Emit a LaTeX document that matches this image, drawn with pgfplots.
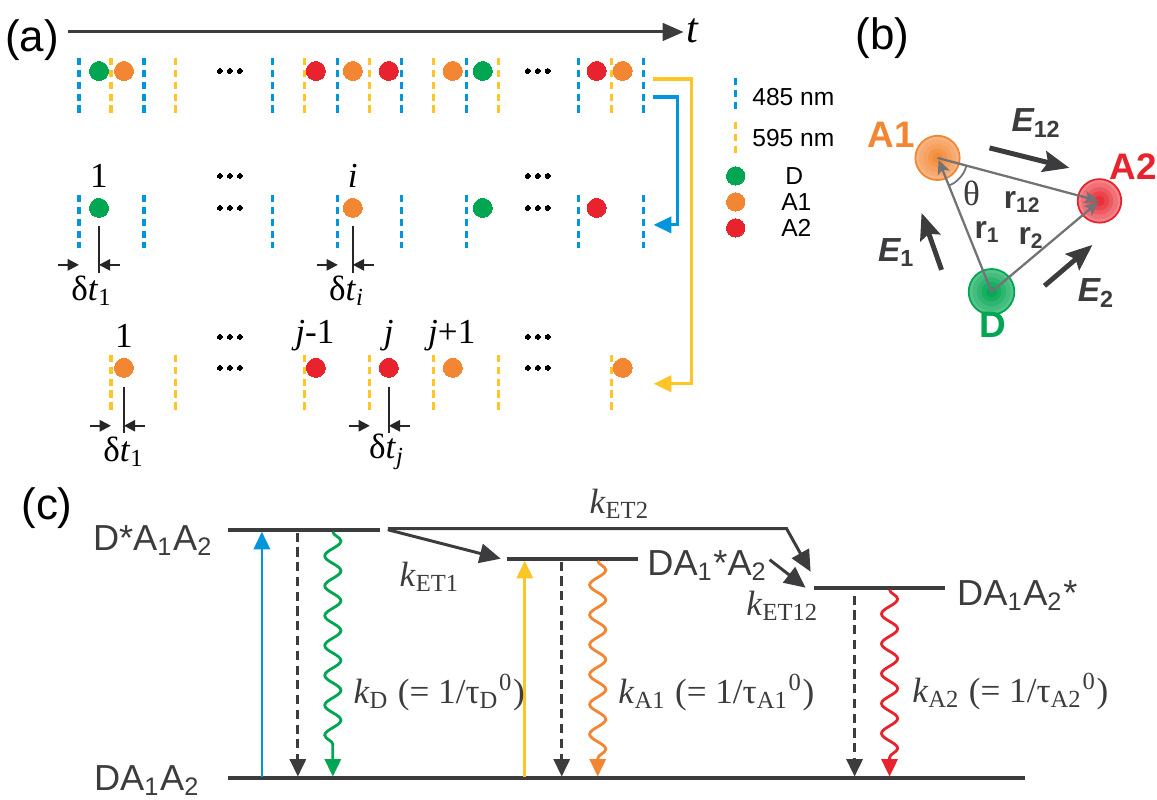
\documentclass[border=0pt]{standalone}
\usepackage{pgfplots}
\pgfplotsset{compat=1.18}
\usepackage{fontspec}
\setmainfont{Liberation Sans}
\newfontfamily\tms{Liberation Serif}
\usetikzlibrary{arrows.meta,decorations.pathmorphing}
\definecolor{cblue}{RGB}{0,150,219}
\definecolor{cyel}{RGB}{255,196,37}
\definecolor{cgreen}{RGB}{0,166,81}
\definecolor{corange}{RGB}{243,134,50}
\definecolor{cred}{RGB}{232,35,45}
\definecolor{cdark}{RGB}{60,60,62}
\definecolor{cgray}{RGB}{115,115,118}
\newcommand{\fs}[1]{\fontsize{#1}{#1}\selectfont}
\tikzset{every node/.append style={inner sep=0pt}}
\begin{document}
\begin{tikzpicture}
\begin{axis}[width=11.57cm,height=8cm,scale only axis,xmin=0,xmax=1157,ymin=0,ymax=800,
  y dir=reverse,axis lines=none,clip=false,clip marker paths=true,unbounded coords=jump,
  bd/.style={cblue,line width=0.9pt,dash pattern=on 2.13pt off 1.25pt},
  yd/.style={cyel,line width=0.9pt,dash pattern=on 2.13pt off 1.25pt},
  dot/.style={color=#1,only marks,mark=*,mark size=2.7pt,mark options={draw=#1,fill=#1,line width=0pt}},
  ell/.style={black,only marks,mark=*,mark size=0.7pt,mark options={draw=black,fill=black,line width=0pt}},
  ball/.style n args={3}{#1,only marks,mark=*,mark size=#2,mark options={draw=#3,fill=#1,line width=0.5pt}},
  sarr/.style={black!85,line width=0.6pt,-{Triangle[length=3.2pt,width=3.2pt]}},
  tip/.style={-{Triangle[length=5pt,width=4.6pt]}},
  garr/.style={cgray,line width=0.65pt,-{Stealth[length=4pt,width=3.6pt,inset=1pt]}},
  earr/.style={cdark,line width=1.4pt,-{Stealth[length=7.5pt,width=6pt,inset=1.2pt]}},
  wave/.style={#1,line width=0.8pt,decorate,decoration={snake,amplitude=2.3pt,segment length=8.5pt,post length=5pt},-{Triangle[length=5pt,width=4.6pt]}},
  ]
\addplot[draw=none] coordinates {(0,0)(1157,800)};

% ---------------- panel (a) ----------------
\node[font=\fs{12.5}] at (axis cs:32,40) {(a)};
\addplot[cdark,line width=0.85pt,-{Triangle[length=6pt,width=5pt]}] coordinates {(68,32)(684,32)};
\node[font=\tms\itshape\fs{12}] at (axis cs:693,31) {t};

% row 1
\addplot[bd] coordinates {(79,58)(79,113) (79,nan) (144,58)(144,113) (144,nan) (273,58)(273,113) (273,nan) (338,58)(338,113) (338,nan) (402,58)(402,113) (402,nan) (467,58)(467,113) (467,nan) (579,58)(579,113) (579,nan) (644,58)(644,113)};
\addplot[yd] coordinates {(111,58)(111,113) (111,nan) (176,58)(176,113) (176,nan) (305,58)(305,113) (305,nan) (370,58)(370,113) (370,nan) (434,58)(434,113) (434,nan) (499,58)(499,113) (499,nan) (612,58)(612,113)};
\addplot[dot=cgreen] coordinates {(99,71)(483,71)};
\addplot[dot=corange] coordinates {(124,71)(353,71)(453,71)(623,71)};
\addplot[dot=cred] coordinates {(316,71)(389,71)(597,71)};
\addplot[ell] coordinates {(220,71)(230,71)(240,71) (528,71)(538,71)(548,71)};

% row 2
\addplot[bd] coordinates {(79,195)(79,248) (79,nan) (144,195)(144,248) (144,nan) (273,195)(273,248) (273,nan) (338,195)(338,248) (338,nan) (402,195)(402,248) (402,nan) (467,195)(467,248) (467,nan) (579,195)(579,248) (579,nan) (644,195)(644,248)};
\addplot[dot=cgreen] coordinates {(99,208)(483,208)};
\addplot[dot=corange] coordinates {(353,208)};
\addplot[dot=cred] coordinates {(597,208)};
\addplot[ell] coordinates {(220,208)(230,208)(240,208) (528,208)(538,208)(548,208) (220,176)(230,176)(240,176) (528,176)(538,176)(548,176)};
\node[font=\tms\fs{10}] at (axis cs:99,176) {1};
\node[font=\tms\itshape\fs{10}] at (axis cs:353,176) {i};
\addplot[black!85,line width=0.6pt] coordinates {(99,226)(99,273) (99,nan) (353,226)(353,273)};
\addplot[sarr] coordinates {(58,265)(79,265)};
\addplot[sarr] coordinates {(120,265)(99,265)};
\addplot[sarr] coordinates {(317,265)(338,265)};
\addplot[sarr] coordinates {(374,265)(353,265)};
\node[font=\tms\fs{10}] at (axis cs:92,291) {δ\textit{t}\textsubscript{1}};
\node[font=\tms\fs{10}] at (axis cs:347,291) {δ\textit{t}\textsubscript{\textit{i}}};

% row 3
\addplot[yd] coordinates {(111,355)(111,410) (111,nan) (176,355)(176,410) (176,nan) (305,355)(305,410) (305,nan) (370,355)(370,410) (370,nan) (434,355)(434,410) (434,nan) (499,355)(499,410) (499,nan) (612,355)(612,410)};
\addplot[dot=corange] coordinates {(124,368)(453,368)(623,368)};
\addplot[dot=cred] coordinates {(316,368)(389,368)};
\addplot[ell] coordinates {(220,368)(230,368)(240,368) (528,368)(538,368)(548,368) (220,337)(230,337)(240,337) (528,337)(538,337)(548,337)};
\node[font=\tms\fs{10}] at (axis cs:124,336) {1};
\node[font=\tms\fs{10}] at (axis cs:315,336) {\textit{j}-1};
\node[font=\tms\fs{10}] at (axis cs:389,336) {\textit{j}};
\node[font=\tms\fs{10}] at (axis cs:452,336) {\textit{j}+1};
\addplot[black!85,line width=0.6pt] coordinates {(124,387)(124,433) (124,nan) (389,387)(389,433)};
\addplot[sarr] coordinates {(90,426)(111,426)};
\addplot[sarr] coordinates {(145,426)(124,426)};
\addplot[sarr] coordinates {(349,426)(370,426)};
\addplot[sarr] coordinates {(410,426)(389,426)};
\node[font=\tms\fs{10}] at (axis cs:124,452) {δ\textit{t}\textsubscript{1}};
\node[font=\tms\fs{10}] at (axis cs:387,452) {δ\textit{t}\textsubscript{\textit{j}}};

% routing arrows
\addplot[cyel,line width=0.9pt,-{Triangle[length=5pt,width=4.6pt]}] coordinates {(653,79)(692,79)(692,384)(654,384)};
\addplot[cblue,line width=0.9pt,-{Triangle[length=5pt,width=4.6pt]}] coordinates {(653,97)(678,97)(678,225)(654,225)};

% legend
\addplot[cblue,line width=0.9pt,dash pattern=on 2.13pt off 1.25pt] coordinates {(736,78)(736,110)};
\addplot[cyel,line width=0.9pt,dash pattern=on 2.13pt off 1.25pt] coordinates {(736,122)(736,154)};
\node[font=\fs{7},anchor=west] at (axis cs:752,97) {485 nm};
\node[font=\fs{7},anchor=west] at (axis cs:752,138) {595 nm};
\addplot[dot=cgreen,mark size=2.6pt] coordinates {(736,176)};
\addplot[dot=corange,mark size=2.6pt] coordinates {(736,202)};
\addplot[dot=cred,mark size=2.6pt] coordinates {(736,228)};
\node[font=\fs{7},anchor=west] at (axis cs:785,176) {D};
\node[font=\fs{7},anchor=west] at (axis cs:781,202) {A1};
\node[font=\fs{7},anchor=west] at (axis cs:781,228) {A2};

% ---------------- panel (b) ----------------
\node[font=\fs{12.5}] at (axis cs:883,38) {(b)};
\addplot[ball={corange!62!white}{6.3pt}{corange}] coordinates {(938,158)};
\addplot[ball={corange!70!white}{5pt}{corange!70!white}] coordinates {(938,158)};
\addplot[ball={corange!78!white}{3.8pt}{corange!78!white}] coordinates {(938,158)};
\addplot[ball={corange!87!white}{2.5pt}{corange!87!white}] coordinates {(938,158)};
\addplot[ball={corange!95!white}{1.3pt}{corange!95!white}] coordinates {(938,158)};
\addplot[ball={cred!55!white}{6.2pt}{cred}] coordinates {(1100,201)};
\addplot[ball={cred!65!white}{5pt}{cred!65!white}] coordinates {(1100,201)};
\addplot[ball={cred!75!white}{3.7pt}{cred!75!white}] coordinates {(1100,201)};
\addplot[ball={cred!85!white}{2.5pt}{cred!85!white}] coordinates {(1100,201)};
\addplot[ball={cred!94!white}{1.2pt}{cred!94!white}] coordinates {(1100,201)};
\addplot[ball={cgreen!66!white}{6.5pt}{cgreen}] coordinates {(992,292)};
\addplot[ball={cgreen!74!white}{5.2pt}{cgreen!74!white}] coordinates {(992,292)};
\addplot[ball={cgreen!82!white}{3.9pt}{cgreen!82!white}] coordinates {(992,292)};
\addplot[ball={cgreen!90!white}{2.6pt}{cgreen!90!white}] coordinates {(992,292)};
\addplot[ball={cgreen!97!white}{1.3pt}{cgreen!97!white}] coordinates {(992,292)};
\addplot[garr] coordinates {(992,292)(939,160)};
\addplot[garr] coordinates {(992,292)(1099,202)};
\addplot[garr] coordinates {(938,158)(1099,201)};
\addplot[cgray,line width=0.5pt,smooth] coordinates {(967.1,165.5)(964.5,172.1)(960.6,177.7)(955.2,182.6)(949.2,185.8)};
\node[font=\tms\fs{10},text=cdark] at (axis cs:972,193) {θ};
\node[font=\bfseries\fs{9},text=cdark] at (axis cs:1023,202) {r\textsubscript{12}};
\node[font=\bfseries\fs{9},text=cdark] at (axis cs:988,232) {r\textsubscript{1}};
\node[font=\bfseries\fs{9},text=cdark] at (axis cs:1032,238) {r\textsubscript{2}};
\addplot[earr] coordinates {(990,148)(1070,168)};
\addplot[earr] coordinates {(942,270)(922,213)};
\addplot[earr] coordinates {(1045,286)(1093,245)};
\node[font=\bfseries\itshape\fs{9.5},text=cdark] at (axis cs:1037,123) {E\textsubscript{\upshape 12}};
\node[font=\bfseries\itshape\fs{9.5},text=cdark] at (axis cs:897,253) {E\textsubscript{\upshape 1}};
\node[font=\bfseries\itshape\fs{9.5},text=cdark] at (axis cs:1097,293) {E\textsubscript{\upshape 2}};
\node[font=\bfseries\fs{10.5},text=corange] at (axis cs:892,135) {A1};
\node[font=\bfseries\fs{10.5},text=cred] at (axis cs:1134,167) {A2};
\node[font=\bfseries\fs{10.5},text=cgreen] at (axis cs:993,325) {D};

% ---------------- panel (c) ----------------
\node[font=\fs{12.5}] at (axis cs:47,508) {(c)};
\addplot[cdark,line width=1.1pt] coordinates {(228,530)(380,530)};
\addplot[cdark,line width=1.1pt] coordinates {(228,778)(1025,778)};
\addplot[cdark,line width=1.1pt] coordinates {(507,559)(638,559)};
\addplot[cdark,line width=1.1pt] coordinates {(814,588)(945,588)};
\addplot[cblue,line width=0.75pt,tip] coordinates {(262,777)(262,532)};
\addplot[cyel,line width=0.75pt,tip] coordinates {(525,777)(525,561)};
\addplot[cdark,line width=0.8pt,dash pattern=on 2.6pt off 1.6pt,tip] coordinates {(298,533)(298,777)};
\addplot[cdark,line width=0.8pt,dash pattern=on 2.6pt off 1.6pt,tip] coordinates {(562,562)(562,777)};
\addplot[cdark,line width=0.8pt,dash pattern=on 2.6pt off 1.6pt,tip] coordinates {(855,596)(855,777)};
\addplot[wave=cgreen] coordinates {(333,532)(333,777)};
\addplot[wave=corange] coordinates {(598,561)(598,777)};
\addplot[wave=cred] coordinates {(890,590)(890,777)};
\addplot[cdark,line width=0.85pt,-{Triangle[length=6pt,width=5.5pt]}] coordinates {(388,530)(501,559)};
\addplot[cdark,line width=0.85pt,-{Triangle[length=6pt,width=5.5pt]}] coordinates {(388,529)(787,529)(811,572)};
\addplot[cdark,line width=0.85pt,-{Triangle[length=6pt,width=5.5pt]}] coordinates {(770,560)(806,588)};
\node[font=\fs{10.3},anchor=east,text=cdark] at (axis cs:214,541) {D*A\textsubscript{1}A\textsubscript{2}};
\node[font=\fs{10.3},anchor=east,text=cdark] at (axis cs:201,781) {DA\textsubscript{1}A\textsubscript{2}};
\node[font=\fs{10.3},anchor=west,text=cdark] at (axis cs:647,566) {DA\textsubscript{1}*A\textsubscript{2}};
\node[font=\fs{10.3},anchor=west,text=cdark] at (axis cs:957,596) {DA\textsubscript{1}A\textsubscript{2}*};
\node[font=\tms\fs{10},text=cdark] at (axis cs:620,504) {\textit{k}\textsubscript{ET2}};
\node[font=\tms\fs{10},text=cdark] at (axis cs:430,577) {\textit{k}\textsubscript{ET1}};
\node[font=\tms\fs{10},text=cdark,anchor=east] at (axis cs:820,606) {\textit{k}\textsubscript{ET12}};
\node[font=\tms\fs{10},text=cdark,anchor=west] at (axis cs:353,693) {\textit{k}\textsubscript{D} (= 1/τ\textsubscript{D}\textsuperscript{0})};
\node[font=\tms\fs{10},text=cdark,anchor=west] at (axis cs:618,693) {\textit{k}\textsubscript{A1} (= 1/τ\textsubscript{A1}\textsuperscript{0})};
\node[font=\tms\fs{10},text=cdark,anchor=west] at (axis cs:912,692) {\textit{k}\textsubscript{A2} (= 1/τ\textsubscript{A2}\textsuperscript{0})};
\end{axis}
\end{tikzpicture}
\end{document}
